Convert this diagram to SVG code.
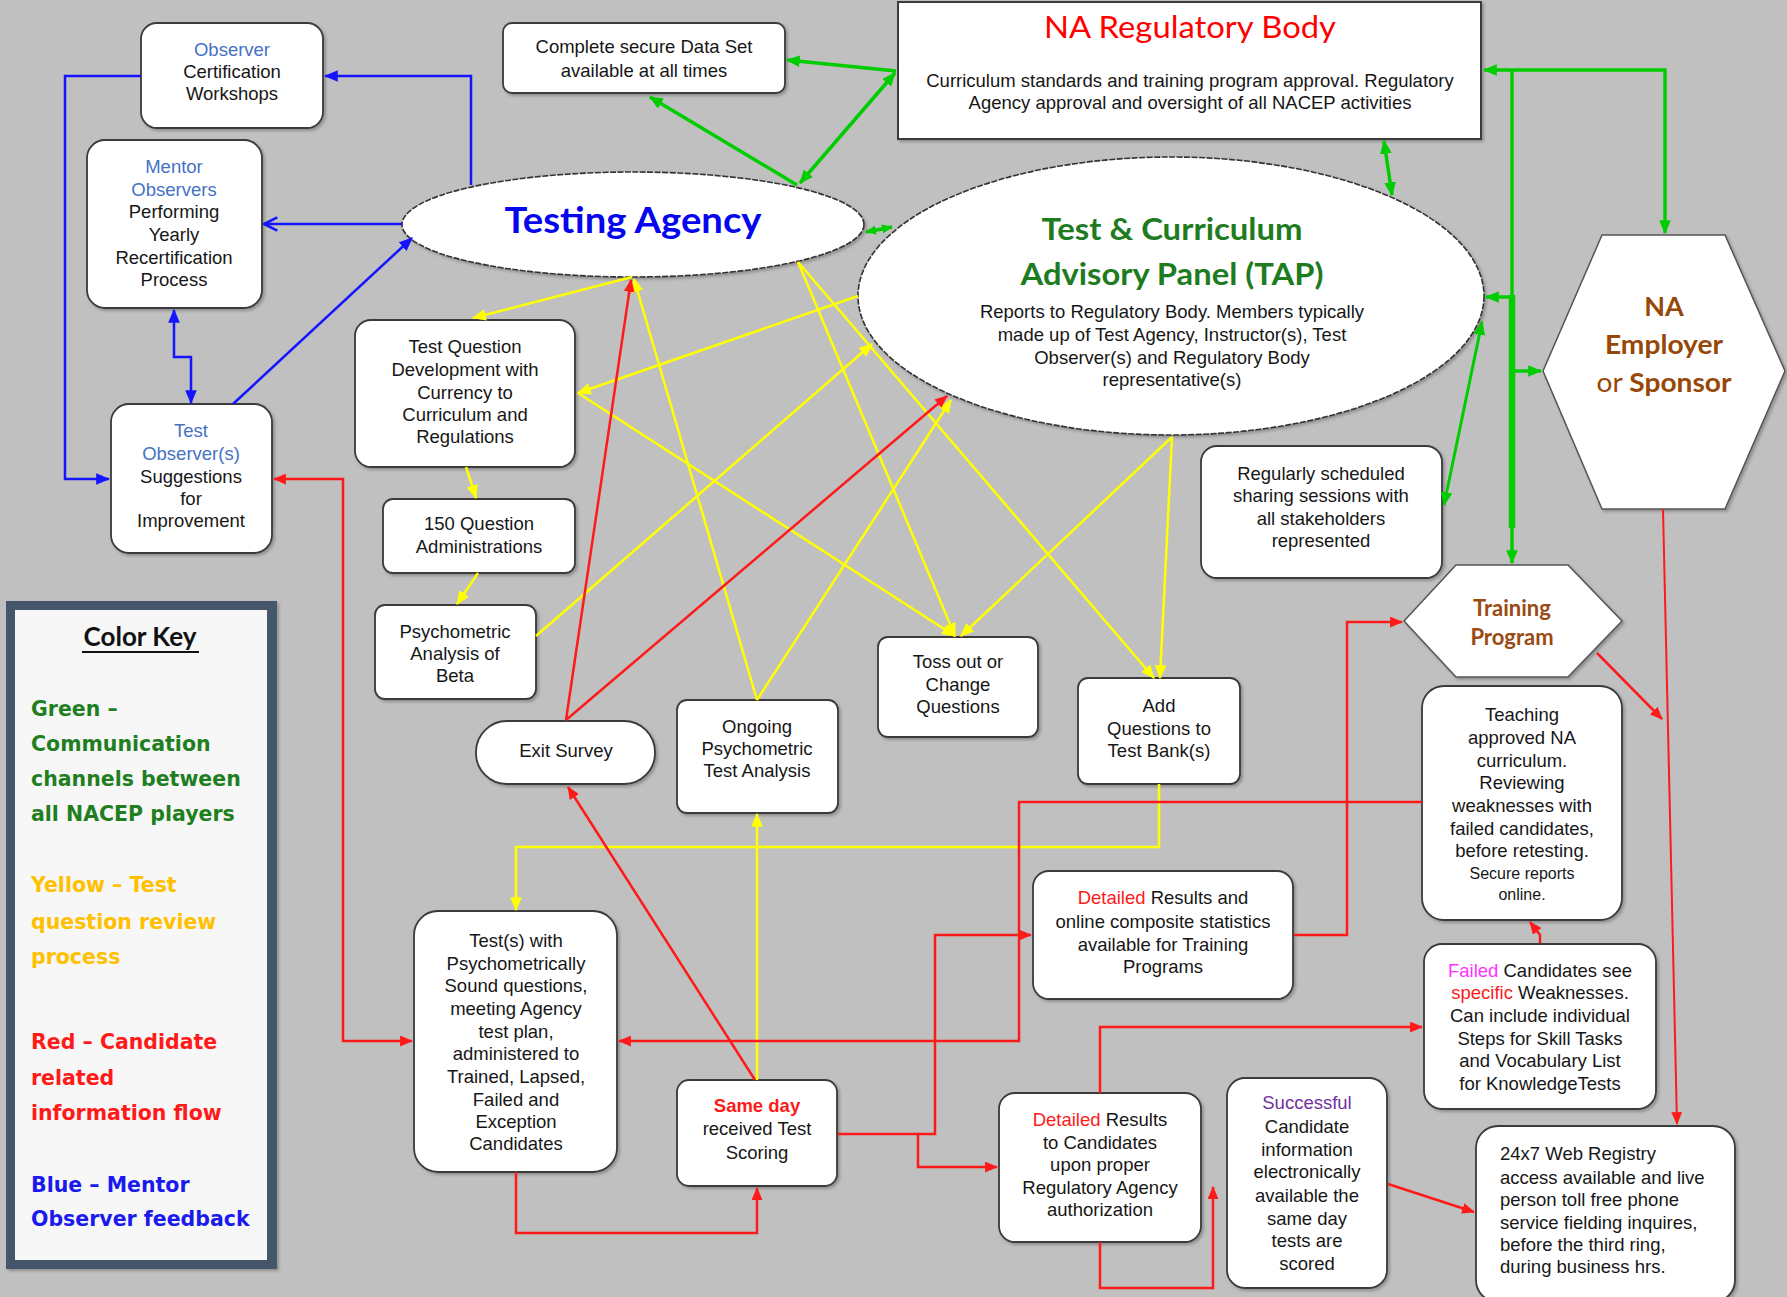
<svg xmlns="http://www.w3.org/2000/svg" width="1787" height="1297" viewBox="0 0 1787 1297">
<defs>
<style>
.box{fill:#fff;stroke:#3a3a3a;stroke-width:1.8;filter:url(#sh)}
.ell{fill:#fff;stroke:#333;stroke-width:1.6;stroke-dasharray:6 1.5;filter:url(#sh)}
.t{font-family:"Liberation Sans",Arial,sans-serif;font-size:18.5px;fill:#161616;text-anchor:middle}
.tl{font-family:"Liberation Sans",Arial,sans-serif;font-size:18.5px;fill:#161616}
.sm{font-size:16px}
.lb{fill:#4472C4}
.rd{fill:#ff1a1a}
.mg{fill:#ff33ff}
.pu{fill:#7030A0}
.ttl{font-family:Lato,"Open Sans",sans-serif;font-weight:bold;text-anchor:middle}
.brn{fill:#974706}
.key{font-family:"DejaVu Sans",Verdana,sans-serif;font-weight:bold;font-size:20.5px}
.cb{fill:none;stroke:#1414ff;stroke-width:2.5}
.cg{fill:none;stroke:#00cc00;stroke-width:3.5}
.cr{fill:none;stroke:#ff1a1a;stroke-width:2.5}
.cy{fill:none;stroke:#ffff00;stroke-width:2.5}
</style>
<filter id="sh" x="-5%" y="-5%" width="112%" height="112%">
<feDropShadow dx="2" dy="2" stdDeviation="1.5" flood-color="#666" flood-opacity="0.55"/>
</filter>
<marker id="ab" viewBox="0 0 12 10" refX="11" refY="5" markerWidth="14" markerHeight="12" markerUnits="userSpaceOnUse" orient="auto-start-reverse"><path d="M0,0 L12,5 L0,10 z" fill="#1414ff"/></marker>
<marker id="abo" viewBox="0 0 12 12" refX="11" refY="6" markerWidth="16" markerHeight="16" markerUnits="userSpaceOnUse" orient="auto"><path d="M1,1 L11,6 L1,11" fill="none" stroke="#1414ff" stroke-width="2"/></marker>
<marker id="ag" viewBox="0 0 12 10" refX="11" refY="5" markerWidth="14" markerHeight="12" markerUnits="userSpaceOnUse" orient="auto-start-reverse"><path d="M0,0 L12,5 L0,10 z" fill="#00cc00"/></marker>
<marker id="ags" viewBox="0 0 12 10" refX="11" refY="5" markerWidth="11" markerHeight="10" markerUnits="userSpaceOnUse" orient="auto-start-reverse"><path d="M0,0 L12,5 L0,10 z" fill="#00cc00"/></marker>
<marker id="ar" viewBox="0 0 12 10" refX="11" refY="5" markerWidth="13" markerHeight="11" markerUnits="userSpaceOnUse" orient="auto-start-reverse"><path d="M0,0 L12,5 L0,10 z" fill="#ff1a1a"/></marker>
<marker id="ay" viewBox="0 0 12 10" refX="11" refY="5" markerWidth="14" markerHeight="13" markerUnits="userSpaceOnUse" orient="auto-start-reverse"><path d="M0,0 L12,5 L0,10 z" fill="#ffff00"/></marker>
</defs>

<rect width="1787" height="1297" fill="#c0c0c0"/>

<g id="nodes">
<g id="observer-workshops">
<rect class="box" x="141" y="23" width="182" height="105" rx="16"/>
<text class="t"><tspan class="lb" x="232" y="56">Observer</tspan><tspan x="232" y="78">Certification</tspan><tspan x="232" y="100">Workshops</tspan></text>
</g>
<g id="mentor-observers">
<rect class="box" x="87" y="140" width="175" height="168" rx="18"/>
<text class="t"><tspan class="lb" x="174" y="173">Mentor</tspan><tspan class="lb" x="174" y="196">Observers</tspan><tspan x="174" y="218">Performing</tspan><tspan x="174" y="241">Yearly</tspan><tspan x="174" y="264">Recertification</tspan><tspan x="174" y="286">Process</tspan></text>
</g>
<g id="test-observers">
<rect class="box" x="111" y="404" width="161" height="149" rx="18"/>
<text class="t"><tspan class="lb" x="191" y="437">Test</tspan><tspan class="lb" x="191" y="460">Observer(s)</tspan><tspan x="191" y="483">Suggestions</tspan><tspan x="191" y="505">for</tspan><tspan x="191" y="527">Improvement</tspan></text>
</g>
<g id="data-set">
<rect class="box" x="503" y="23" width="282" height="70" rx="9"/>
<text class="t"><tspan x="644" y="53">Complete secure Data Set</tspan><tspan x="644" y="77">available at all times</tspan></text>
</g>
<g id="regulatory-body">
<rect x="898" y="2" width="583" height="137" fill="#fff" stroke="#3a3a3a" stroke-width="2" filter="url(#sh)"/>
<text class="ttl" x="1190" y="38" font-size="31" style="font-weight:normal" fill="#ff0000" textLength="292" lengthAdjust="spacingAndGlyphs">NA Regulatory Body</text>
<text class="t"><tspan x="1190" y="87">Curriculum standards and training program approval. Regulatory</tspan><tspan x="1190" y="109">Agency approval and oversight of all NACEP activities</tspan></text>
</g>
<g id="testing-agency">
<ellipse class="ell" cx="633" cy="224.5" rx="231" ry="52.5"/>
<text class="ttl" x="633" y="233" font-size="36" fill="#0505ee" textLength="257" lengthAdjust="spacingAndGlyphs">Testing Agency</text>
</g>
<g id="tap">
<ellipse class="ell" cx="1171" cy="296" rx="313" ry="139"/>
<text class="ttl" font-size="31" fill="#1e7b1e"><tspan x="1172" y="240" textLength="261" lengthAdjust="spacingAndGlyphs">Test &amp; Curriculum</tspan><tspan x="1172" y="285" textLength="303" lengthAdjust="spacingAndGlyphs">Advisory Panel (TAP)</tspan></text>
<text class="t"><tspan x="1172" y="318">Reports to Regulatory Body. Members typically</tspan><tspan x="1172" y="341">made up of Test Agency, Instructor(s), Test</tspan><tspan x="1172" y="364">Observer(s) and Regulatory Body</tspan><tspan x="1172" y="386">representative(s)</tspan></text>
</g>
<g id="na-employer">
<polygon points="1602,235 1725,235 1785,371 1725,509 1602,509 1543,371" fill="#fff" stroke="#555" stroke-width="1.5" filter="url(#sh)"/>
<text class="ttl brn" font-size="27"><tspan x="1664" y="316">NA</tspan><tspan x="1664" y="354" textLength="118" lengthAdjust="spacingAndGlyphs">Employer</tspan><tspan x="1664" y="392" textLength="135" lengthAdjust="spacingAndGlyphs"><tspan style="font-weight:normal">or </tspan>Sponsor</tspan></text>
</g>
<g id="test-question-dev">
<rect class="box" x="355" y="320" width="220" height="147" rx="16"/>
<text class="t"><tspan x="465" y="353">Test Question</tspan><tspan x="465" y="376">Development with</tspan><tspan x="465" y="399">Currency to</tspan><tspan x="465" y="421">Curriculum and</tspan><tspan x="465" y="443">Regulations</tspan></text>
</g>
<g id="q150">
<rect class="box" x="383" y="499" width="192" height="74" rx="10"/>
<text class="t"><tspan x="479" y="530">150 Question</tspan><tspan x="479" y="553">Administrations</tspan></text>
</g>
<g id="psych-beta">
<rect class="box" x="375" y="605" width="161" height="94" rx="10"/>
<text class="t"><tspan x="455" y="638">Psychometric</tspan><tspan x="455" y="660">Analysis of</tspan><tspan x="455" y="682">Beta</tspan></text>
</g>
<g id="exit-survey">
<rect class="box" x="476" y="721" width="179" height="63" rx="31"/>
<text class="t" x="566" y="757">Exit Survey</text>
</g>
<g id="ongoing">
<rect class="box" x="677" y="700" width="161" height="113" rx="10"/>
<text class="t"><tspan x="757" y="733">Ongoing</tspan><tspan x="757" y="755">Psychometric</tspan><tspan x="757" y="777">Test Analysis</tspan></text>
</g>
<g id="toss-out">
<rect class="box" x="878" y="637" width="160" height="100" rx="10"/>
<text class="t"><tspan x="958" y="668">Toss out or</tspan><tspan x="958" y="691">Change</tspan><tspan x="958" y="713">Questions</tspan></text>
</g>
<g id="add-questions">
<rect class="box" x="1078" y="678" width="162" height="106" rx="10"/>
<text class="t"><tspan x="1159" y="712">Add</tspan><tspan x="1159" y="735">Questions to</tspan><tspan x="1159" y="757">Test Bank(s)</tspan></text>
</g>
<g id="sharing-sessions">
<rect class="box" x="1201" y="446" width="241" height="132" rx="16"/>
<text class="t"><tspan x="1321" y="480">Regularly scheduled</tspan><tspan x="1321" y="502">sharing sessions with</tspan><tspan x="1321" y="525">all stakeholders</tspan><tspan x="1321" y="547">represented</tspan></text>
</g>
<g id="training-program">
<polygon points="1404,621 1456,565 1568,565 1622,621 1568,677 1456,677" fill="#fff" stroke="#555" stroke-width="1.5" filter="url(#sh)"/>
<text class="ttl" font-size="22" fill="#9a4a12"><tspan x="1512" y="616">Training</tspan><tspan x="1512" y="645">Program</tspan></text>
</g>
<g id="teaching">
<rect class="box" x="1422" y="686" width="200" height="234" rx="22"/>
<text class="t"><tspan x="1522" y="721">Teaching</tspan><tspan x="1522" y="744">approved NA</tspan><tspan x="1522" y="767">curriculum.</tspan><tspan x="1522" y="789">Reviewing</tspan><tspan x="1522" y="812">weaknesses with</tspan><tspan x="1522" y="835">failed candidates,</tspan><tspan x="1522" y="857">before retesting.</tspan><tspan class="sm" x="1522" y="879">Secure reports</tspan><tspan class="sm" x="1522" y="900">online.</tspan></text>
</g>
<g id="detailed-online">
<rect class="box" x="1033" y="871" width="260" height="128" rx="16"/>
<text class="t"><tspan x="1163" y="904"><tspan class="rd">Detailed</tspan> Results and</tspan><tspan x="1163" y="928">online composite statistics</tspan><tspan x="1163" y="951">available for Training</tspan><tspan x="1163" y="973">Programs</tspan></text>
</g>
<g id="failed-candidates">
<rect class="box" x="1424" y="944" width="232" height="165" rx="18"/>
<text class="t"><tspan x="1540" y="977"><tspan class="mg">Failed</tspan> Candidates see</tspan><tspan x="1540" y="999"><tspan class="rd">specific</tspan> Weaknesses.</tspan><tspan x="1540" y="1022">Can include individual</tspan><tspan x="1540" y="1045">Steps for Skill Tasks</tspan><tspan x="1540" y="1067">and Vocabulary List</tspan><tspan x="1540" y="1090">for KnowledgeTests</tspan></text>
</g>
<g id="tests">
<rect class="box" x="414" y="911" width="203" height="261" rx="24"/>
<text class="t"><tspan x="516" y="947">Test(s) with</tspan><tspan x="516" y="970">Psychometrically</tspan><tspan x="516" y="992">Sound questions,</tspan><tspan x="516" y="1015">meeting Agency</tspan><tspan x="516" y="1038">test plan,</tspan><tspan x="516" y="1060">administered to</tspan><tspan x="516" y="1083">Trained, Lapsed,</tspan><tspan x="516" y="1106">Failed and</tspan><tspan x="516" y="1128">Exception</tspan><tspan x="516" y="1150">Candidates</tspan></text>
</g>
<g id="same-day">
<rect class="box" x="677" y="1080" width="160" height="106" rx="12"/>
<text class="t"><tspan class="rd" font-weight="bold" x="757" y="1112">Same day</tspan><tspan x="757" y="1135">received Test</tspan><tspan x="757" y="1159">Scoring</tspan></text>
</g>
<g id="detailed-candidates">
<rect class="box" x="999" y="1093" width="202" height="149" rx="16"/>
<text class="t"><tspan x="1100" y="1126"><tspan class="rd">Detailed</tspan> Results</tspan><tspan x="1100" y="1149">to Candidates</tspan><tspan x="1100" y="1171">upon proper</tspan><tspan x="1100" y="1194">Regulatory Agency</tspan><tspan x="1100" y="1216">authorization</tspan></text>
</g>
<g id="successful">
<rect class="box" x="1227" y="1078" width="160" height="210" rx="18"/>
<text class="t"><tspan class="pu" x="1307" y="1109">Successful</tspan><tspan x="1307" y="1133">Candidate</tspan><tspan x="1307" y="1156">information</tspan><tspan x="1307" y="1178">electronically</tspan><tspan x="1307" y="1202">available the</tspan><tspan x="1307" y="1225">same day</tspan><tspan x="1307" y="1247">tests are</tspan><tspan x="1307" y="1270">scored</tspan></text>
</g>
<g id="web-registry">
<rect class="box" x="1476" y="1126" width="259" height="176" rx="22"/>
<text class="tl"><tspan x="1500" y="1160">24x7 Web Registry</tspan><tspan x="1500" y="1184">access available and live</tspan><tspan x="1500" y="1206">person toll free phone</tspan><tspan x="1500" y="1229">service fielding inquires,</tspan><tspan x="1500" y="1251">before the third ring,</tspan><tspan x="1500" y="1273">during business hrs.</tspan></text>
</g>
<g id="color-key">
<rect x="6" y="601" width="271" height="668" fill="#44546A" filter="url(#sh)"/>
<rect x="15" y="610" width="252" height="650" fill="#f7f7f7"/>
<text class="ttl" x="140" y="646" font-size="26" fill="#111">Color Key</text>
<line x1="82" y1="652" x2="199" y2="652" stroke="#111" stroke-width="2"/>
<text class="key" fill="#1f7f1f"><tspan x="31" y="716">Green –</tspan><tspan x="31" y="751">Communication</tspan><tspan x="31" y="786">channels between</tspan><tspan x="31" y="821">all NACEP players</tspan></text>
<text class="key" fill="#ffc000"><tspan x="31" y="892">Yellow – Test</tspan><tspan x="31" y="929">question review</tspan><tspan x="31" y="964">process</tspan></text>
<text class="key" fill="#ff1a1a"><tspan x="31" y="1049">Red – Candidate</tspan><tspan x="31" y="1085">related</tspan><tspan x="31" y="1120">information flow</tspan></text>
<text class="key" fill="#1a1aee"><tspan x="31" y="1192">Blue – Mentor</tspan><tspan x="31" y="1226">Observer feedback</tspan></text>
</g>
</g>

<g id="connectors">
<path class="cb" d="M471,185 V76 H325" marker-end="url(#ab)"/>
<path class="cb" d="M141,76 H65 V479 H109" marker-end="url(#ab)"/>
<path class="cb" d="M402,224 H264" marker-end="url(#abo)"/>
<path class="cb" d="M233,404 L412,238" marker-end="url(#ab)"/>
<path class="cb" d="M174,310 V357 H191 V403" marker-start="url(#ab)" marker-end="url(#ab)"/>

<path class="cg" d="M896,71 L787,60" marker-end="url(#ag)"/>
<path class="cg" d="M797,185 L650,97" marker-end="url(#ag)"/>
<path class="cg" d="M800,183 L895,73" marker-start="url(#ag)" marker-end="url(#ag)"/>
<path class="cg" d="M866,232 L892,227" marker-start="url(#ags)" marker-end="url(#ags)"/>
<path class="cg" d="M1384,141 L1392,195" marker-start="url(#ag)" marker-end="url(#ag)"/>
<path class="cg" d="M1665,233 V70 H1484" marker-start="url(#ag)" marker-end="url(#ag)"/>
<path class="cg" d="M1512,70 V563" marker-end="url(#ag)"/>
<path class="cg" d="M1512,295 V528" style="stroke-width:6.5"/>
<path class="cg" d="M1512,297 H1486" marker-end="url(#ag)"/>
<path class="cg" d="M1512,371 H1541" marker-end="url(#ag)"/>
<path class="cg" d="M1482,322 L1444,505" style="stroke-width:3" marker-start="url(#ag)" marker-end="url(#ag)"/>

<path class="cy" d="M632,277 L473,318" marker-end="url(#ay)"/>
<path class="cy" d="M466,467 L476,498" marker-end="url(#ay)"/>
<path class="cy" d="M478,573 L457,604" marker-end="url(#ay)"/>
<path class="cy" d="M536,636 L872,344" marker-end="url(#ay)"/>
<path class="cy" d="M858,296 L578,393" marker-end="url(#ay)"/>
<path class="cy" d="M578,393 L955,636" marker-end="url(#ay)"/>
<path class="cy" d="M798,262 L955,636" marker-end="url(#ay)"/>
<path class="cy" d="M798,262 L1154,678" marker-end="url(#ay)"/>
<path class="cy" d="M1172,437 L961,636" marker-end="url(#ay)"/>
<path class="cy" d="M1172,437 L1160,678" marker-end="url(#ay)"/>
<path class="cy" d="M757,700 L634,279" marker-end="url(#ay)"/>
<path class="cy" d="M757,700 L951,400" marker-end="url(#ay)"/>
<path class="cy" d="M1159,784 V847 H516 V910" marker-end="url(#ay)"/>
<path class="cy" d="M757,1080 V814" marker-end="url(#ay)"/>

<path class="cr" d="M274,479 H343 V1041 H412" marker-start="url(#ar)" marker-end="url(#ar)"/>
<path class="cr" d="M1422,802 H1019 V1041 H619" marker-end="url(#ar)"/>
<path class="cr" d="M516,1172 V1233 H757 V1188" marker-end="url(#ar)"/>
<path class="cr" d="M755,1080 L568,787" marker-end="url(#ar)"/>
<path class="cr" d="M838,1134 H935 V935 H1031" marker-end="url(#ar)"/>
<path class="cr" d="M918,1134 V1167 H997" marker-end="url(#ar)"/>
<path class="cr" d="M1294,935 H1347 V622 H1402" marker-end="url(#ar)"/>
<path class="cr" d="M1100,1093 V1027 H1422" marker-end="url(#ar)"/>
<path class="cr" d="M1100,1242 V1288 H1213 V1187" marker-end="url(#ar)"/>
<path class="cr" d="M1388,1184 L1474,1212" marker-end="url(#ar)"/>
<path class="cr" d="M1540,943 V935 L1530,922" marker-end="url(#ar)"/>
<path class="cr" d="M1597,653 L1662,719" marker-end="url(#ar)"/>
<path class="cr" d="M1663,509 L1677,1124" style="stroke-width:2" marker-end="url(#ar)"/>
<path class="cr" d="M566,720 L631,280" marker-end="url(#ar)"/>
<path class="cr" d="M566,720 L947,396" marker-end="url(#ar)"/>
</g>
</svg>
